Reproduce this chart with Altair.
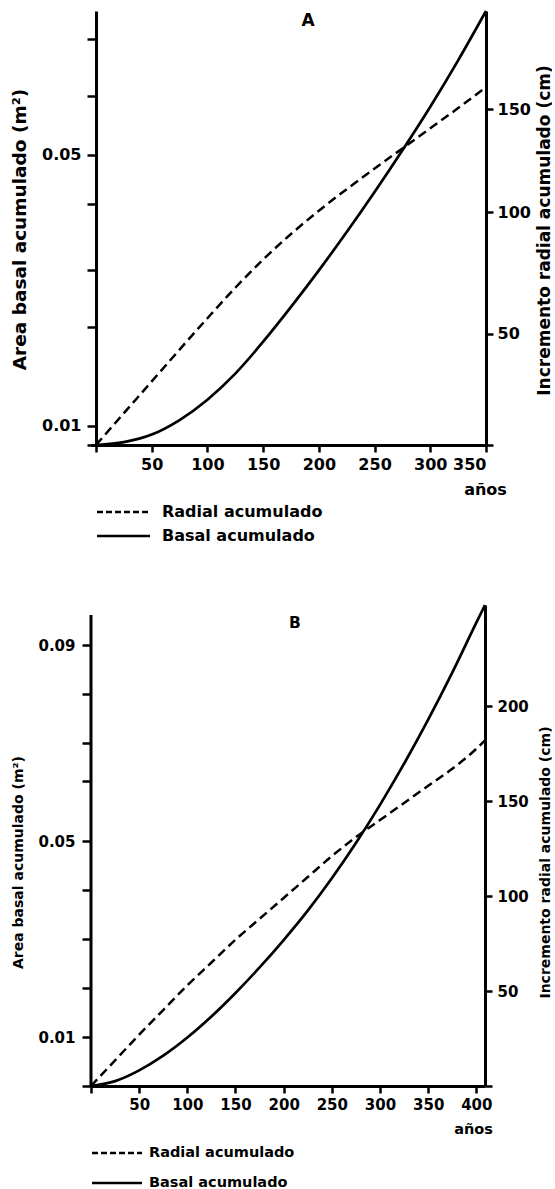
import altair as alt
import pandas as pd

FONT = "DejaVu Sans"

# ---------------- Panel A ----------------
years_a = [0, 25, 50, 75, 100, 125, 150, 175, 200, 225, 250, 275, 300, 325, 350]
radial_a = [0, 14.2, 28.4, 42.6, 56.6, 70.2, 82.8, 94.2, 104.6, 114.2, 123.4, 132.4, 141.4, 150.4, 159.8]
basal_a = [0, 0.0005, 0.0018, 0.0043, 0.0078, 0.0123, 0.0178, 0.0238, 0.0301,
           0.0367, 0.0436, 0.0508, 0.0583, 0.0663, 0.0748]

x_ticks_a = [0, 50, 100, 150, 200, 250, 300, 350]
left_ticks_a = [0, 0.0033, 0.0204, 0.0301, 0.0416, 0.05, 0.0602, 0.07]
left_labels_a = ["", "0.01", "", "", "", "0.05", "", ""]
right_ticks_a = [0, 49.6, 104, 150]
right_labels_a = ["", "50", "100", "150"]

# ---------------- Panel B ----------------
years_b = [0, 25, 50, 75, 100, 125, 150, 175, 200, 225, 250, 275, 300, 325, 350, 375, 400, 409]
radial_b = [0, 13.5, 27, 40, 53, 65, 77, 88, 99, 110, 121, 131, 140, 149, 158, 167, 177.5, 182]
basal_b = [0, 0.001, 0.0032, 0.0062, 0.0099, 0.0142, 0.019, 0.0242, 0.0298, 0.0358,
           0.0424, 0.0496, 0.0574, 0.0658, 0.0748, 0.0844, 0.0946, 0.0982]

x_ticks_b = [0, 50, 100, 150, 200, 250, 300, 350, 400]
left_ticks_b = [0, 0.01, 0.02, 0.03, 0.04, 0.05, 0.0622, 0.07, 0.08, 0.09]
left_labels_b = ["", "0.01", "", "", "", "0.05", "", "", "", "0.09"]
right_ticks_b = [0, 50, 100, 150, 200]
right_labels_b = ["", "50", "100", "150", "200"]

legend_labels = ["Radial acumulado", "Basal acumulado"]
panel_letters = ["A", "B"]
x_title = "años"
left_title = "Area basal acumulado (m²)"
right_title = "Incremento radial acumulado (cm)"


def label_expr(values, labels):
    parts = [f"abs(datum.value - {v}) < 1e-9 ? '{l}' : " for v, l in zip(values, labels) if l]
    return "".join(parts) + "''"


def panel(years, radial, basal, *, width, height, xdom, ldom, rdom, left_offset,
          xticks, lticks, llabels, rticks, rlabels, letter, letter_pos,
          fs_tick, fs_title, fs_leg, ltitle_pos, rtitle_pos, xtitle_pos, leg,
          lpad, rpad, left_domain_top=None):
    df = pd.DataFrame({"year": years, "radial": radial, "basal": basal})
    common = dict(domainColor="black", domainWidth=3, tickColor="black", tickWidth=2.5,
                  labelColor="black", labelFont=FONT, labelFontWeight="bold",
                  labelFontSize=fs_tick, titleFont=FONT, titleFontWeight="bold",
                  titleColor="black", grid=False)
    x = alt.X("year:Q", scale=alt.Scale(domain=xdom, nice=False, zero=False),
              axis=alt.Axis(values=xticks, tickSize=7, labelPadding=4,
                            labelExpr="datum.value == 0 ? '' : datum.label",
                            title=x_title, titleFontSize=fs_leg, titleX=xtitle_pos[0],
                            titleY=xtitle_pos[1], titleAlign="center", titleBaseline="middle",
                            **common))
    yl = alt.Y("basal:Q", scale=alt.Scale(domain=ldom, nice=False, zero=False),
               axis=alt.Axis(orient="left", values=lticks, labelExpr=label_expr(lticks, llabels),
                             tickSize=9, labelPadding=lpad, title=left_title, offset=left_offset,
                             domain=left_domain_top is None,
                             titleFontSize=fs_title[0], titleAngle=270,
                             titleX=ltitle_pos[0], titleY=ltitle_pos[1],
                             titleAlign="center", titleBaseline="middle", **common))
    yr = alt.Y("radial:Q", scale=alt.Scale(domain=rdom, nice=False, zero=False),
               axis=alt.Axis(orient="right", values=rticks, labelExpr=label_expr(rticks, rlabels),
                             tickSize=7, labelPadding=rpad, title=right_title,
                             titleFontSize=fs_title[1], titleAngle=270,
                             titleX=rtitle_pos[0], titleY=rtitle_pos[1],
                             titleAlign="center", titleBaseline="middle", **common))
    basal_line = alt.Chart(df).mark_line(color="black", strokeWidth=2.7,
                                         interpolate="monotone").encode(x=x, y=yl)
    radial_line = alt.Chart(df).mark_line(color="black", strokeWidth=2.5, strokeDash=[9, 5],
                                          interpolate="monotone").encode(x=x, y=yr)
    one = pd.DataFrame({"t": [letter]})
    letter_txt = alt.Chart(one).mark_text(font=FONT, fontWeight="bold", fontSize=fs_leg + 1,
                                          color="black").encode(
        text="t:N", x=alt.value(letter_pos[0]), y=alt.value(letter_pos[1]))
    x0, x1, xt, y0, y1 = leg
    leg_dash = alt.Chart(one).mark_rule(color="black", strokeWidth=2.3, strokeDash=[6, 3]).encode(
        x=alt.value(x0), x2=alt.value(x1), y=alt.value(y0))
    leg_solid = alt.Chart(one).mark_rule(color="black", strokeWidth=2.6).encode(
        x=alt.value(x0), x2=alt.value(x1), y=alt.value(y1))
    leg_t1 = alt.Chart(one).mark_text(font=FONT, fontWeight="bold", fontSize=fs_leg, align="left",
                                      baseline="middle", color="black", text=legend_labels[0]).encode(
        x=alt.value(xt), y=alt.value(y0))
    leg_t2 = alt.Chart(one).mark_text(font=FONT, fontWeight="bold", fontSize=fs_leg, align="left",
                                      baseline="middle", color="black", text=legend_labels[1]).encode(
        x=alt.value(xt), y=alt.value(y1))
    layers = [basal_line, radial_line, letter_txt, leg_dash, leg_solid, leg_t1, leg_t2]
    if left_domain_top is not None:
        layers.append(alt.Chart(one).mark_rule(color="black", strokeWidth=3).encode(
            x=alt.value(0), y=alt.value(left_domain_top), y2=alt.value(height)))
    return alt.layer(*layers).resolve_scale(y="independent").properties(width=width, height=height)


pa = panel(years_a, radial_a, basal_a, width=395, height=434, xdom=[-4.5, 350],
           ldom=[0, 0.0748], rdom=[0, 193.75], left_offset=-5,
           xticks=x_ticks_a, lticks=left_ticks_a, llabels=left_labels_a,
           rticks=right_ticks_a, rlabels=right_labels_a,
           letter=panel_letters[0], letter_pos=(217, 10),
           fs_tick=16, fs_title=(18.5, 17), fs_leg=16,
           ltitle_pos=(-77, 218), rtitle_pos=(58, 219), xtitle_pos=(394, 44),
           leg=(6, 59, 71, 501, 525), lpad=6, rpad=4)

pb = panel(years_b, radial_b, basal_b, width=394, height=481, xdom=[0, 409],
           ldom=[0, 0.0982], rdom=[0, 253.2], left_offset=0,
           xticks=x_ticks_b, lticks=left_ticks_b, llabels=left_labels_b,
           rticks=right_ticks_b, rlabels=right_labels_b,
           letter=panel_letters[1], letter_pos=(204, 18),
           fs_tick=15, fs_title=(14, 14), fs_leg=14.5,
           ltitle_pos=(-73, 257), rtitle_pos=(60, 257), xtitle_pos=(382, 43),
           leg=(1, 51, 58, 548, 578), lpad=7, rpad=5, left_domain_top=10)

chart = alt.concat(pa, pb, columns=1, spacing=55, bounds="full").configure_view(
    stroke=None).properties(padding={"left": 10, "top": 5, "right": 0, "bottom": 0})

chart.save("out.html", embed_options={"renderer": "svg", "actions": False})
